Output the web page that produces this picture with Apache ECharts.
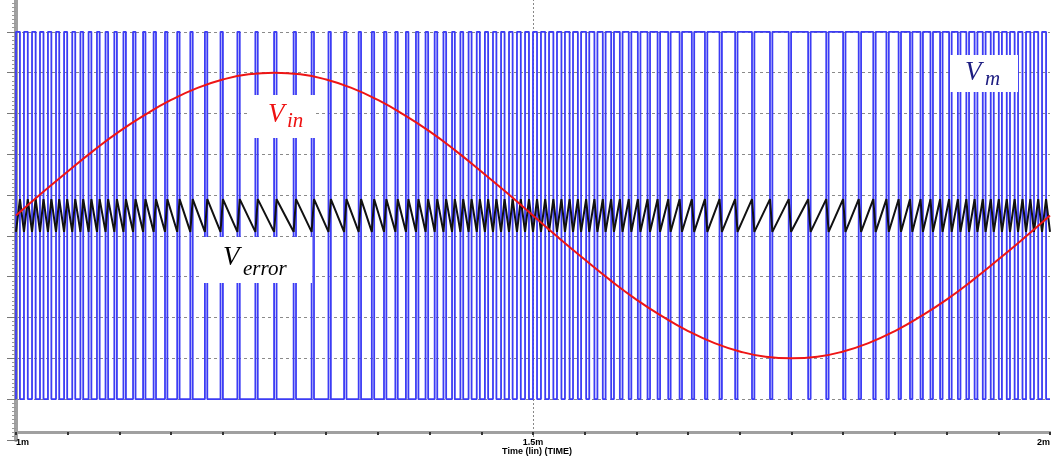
<!DOCTYPE html>
<html>
<head>
<meta charset="utf-8">
<script src="https://cdn.jsdelivr.net/npm/echarts@6/dist/echarts.min.js"></script>
<style>
  html, body { margin: 0; padding: 0; background: #fff; }
  #chart { width: 1051px; height: 457px; }
</style>
</head>
<body>
<div id="chart"></div>
<script>
// x axis in microseconds, labels in ms
const timeTicks = [1000, 1500, 2000]
const timeTickLabels = ['1m', '1.5m', '2m']
const timeAxisName = 'Time (lin) (TIME)'

// V_in (red sine)
const vinTime = [1000, 1025, 1050, 1075, 1100, 1125, 1150, 1175, 1200, 1225, 1250,
  1275, 1300, 1325, 1350, 1375, 1400, 1425, 1450, 1475, 1500,
  1525, 1550, 1575, 1600, 1625, 1650, 1675, 1700, 1725, 1750,
  1775, 1800, 1825, 1850, 1875, 1900, 1925, 1950, 1975, 2000]
const vinValue = [4.5, 5.05, 5.58, 6.09, 6.56, 6.97, 7.33, 7.62, 7.83, 7.96, 8.0,
  7.96, 7.83, 7.62, 7.33, 6.97, 6.56, 6.09, 5.58, 5.05, 4.5,
  3.95, 3.42, 2.91, 2.44, 2.03, 1.67, 1.38, 1.17, 1.04, 1.0,
  1.04, 1.17, 1.38, 1.67, 2.03, 2.44, 2.91, 3.42, 3.95, 4.5]

// V_m (blue PWM): rising edge of each pulse and how long it stays high
const pulseStart = [1000, 1007.7, 1015.5, 1023.2, 1030.9, 1038.7, 1046.5, 1054.4, 1062.3, 1070.2,
  1078.3, 1086.6, 1095.1, 1103.9, 1113.2, 1122.9, 1133.1, 1144.1, 1155.9, 1168.6,
  1182.7, 1197.8, 1214.1, 1231.5, 1249.6, 1268.5, 1285.9, 1302.2, 1317.3, 1331.4,
  1344.1, 1355.9, 1366.9, 1377.1, 1386.8, 1396.1, 1404.9, 1413.4, 1421.7, 1429.8,
  1437.7, 1445.6, 1453.5, 1461.3, 1469.1, 1476.8, 1484.5, 1492.3,
  1500, 1507.7, 1515.5, 1523.2, 1530.9, 1538.7, 1546.5, 1554.4, 1562.3, 1570.2,
  1578.3, 1586.6, 1595.1, 1603.9, 1613.2, 1622.9, 1633.1, 1644.1, 1655.9, 1668.6,
  1682.7, 1697.8, 1714.1, 1731.5, 1749.6, 1768.5, 1785.9, 1802.2, 1817.3, 1831.4,
  1844.1, 1855.9, 1866.9, 1877.1, 1886.8, 1896.1, 1904.9, 1913.4, 1921.7, 1929.8,
  1937.7, 1945.6, 1953.5, 1961.3, 1969.1, 1976.8, 1984.5, 1992.3]
const pulseWidth = [3.8, 3.7, 3.5, 3.4, 3.3, 3.1, 3.0, 2.9, 2.7, 2.7,
  2.6, 2.5, 2.5, 2.4, 2.4, 2.3, 2.3, 2.3, 2.3, 2.3,
  2.3, 2.3, 2.3, 2.3, 2.4, 2.3, 2.3, 2.3, 2.3, 2.3,
  2.3, 2.3, 2.3, 2.4, 2.4, 2.5, 2.5, 2.6, 2.7, 2.7,
  2.9, 3.0, 3.1, 3.3, 3.4, 3.5, 3.7, 3.8,
  3.9, 4.1, 4.2, 4.3, 4.5, 4.7, 4.9, 5.0, 5.2, 5.4,
  5.7, 6.0, 6.3, 6.9, 7.3, 7.9, 8.7, 9.5, 10.4, 11.8,
  12.8, 14.0, 15.1, 15.8, 16.5, 15.1, 14.0, 12.8, 11.8, 10.4,
  9.5, 8.7, 7.9, 7.3, 6.9, 6.3, 6.0, 5.7, 5.4, 5.2,
  5.0, 4.9, 4.7, 4.5, 4.3, 4.2, 4.1, 3.9]
const vmLevels = [0, 9]        // low, high
const errorLevels = [4.1, 4.9] // V_error trough / crest

const tEnd = 2000

// step trace for V_m
const vmData = []
pulseStart.forEach((s, i) => {
    vmData.push([s, vmLevels[0]], [s, vmLevels[1]], [s + pulseWidth[i], vmLevels[1]], [s + pulseWidth[i], vmLevels[0]])
})
vmData.push([tEnd, vmLevels[0]])

// sawtooth for V_error: climbs while V_m is high, falls while low
const errData = []
pulseStart.forEach((s, i) => {
    errData.push([s, errorLevels[0]], [s + pulseWidth[i], errorLevels[1]])
})
errData.push([tEnd, errorLevels[0]])

const vinData = vinTime.map((t, i) => [t, vinValue[i]])

const serif = '"Liberation Serif", "DejaVu Serif", serif'
const sans = '"Liberation Sans", Arial, sans-serif'

// white label boxes with italic serif names
function label(box, main, sub, color) {
    return [
        { type: 'rect', z: 100, shape: box, style: { fill: '#fff' } },
        { type: 'text', z: 101, style: { text: main.t, x: main.x, y: main.y, fill: color,
            font: 'italic 27px ' + serif, verticalAlign: 'bottom' } },
        { type: 'text', z: 101, style: { text: sub.t, x: sub.x, y: sub.y, fill: color,
            font: 'italic 21px ' + serif, verticalAlign: 'bottom' } },
    ]
}

const chart = echarts.init(document.getElementById('chart'))
chart.setOption({
    animation: false,
    backgroundColor: '#fff',
    grid: { left: 16, right: 1, top: -9, bottom: 17, outerBoundsMode: 'none' },
    xAxis: {
        type: 'value',
        min: 1000,
        max: 2000,
        interval: 500,
        offset: -8,
        axisLine: { onZero: false, lineStyle: { color: '#a0a0a0', width: 3 } },
        axisTick: { length: 3, lineStyle: { color: '#333', width: 2 } },
        minorTick: { show: true, splitNumber: 10, length: 3, lineStyle: { color: '#333', width: 2 } },
        splitLine: { show: true, showMaxLine: false, lineStyle: { color: '#888', type: [2, 2], width: 1 } },
        axisLabel: {
            margin: 6,
            fontSize: 9,
            fontWeight: 'bold',
            fontFamily: sans,
            color: '#000',
            alignMinLabel: 'left',
            alignMaxLabel: 'right',
            formatter: v => timeTickLabels[timeTicks.indexOf(v)] || '',
        },
    },
    yAxis: {
        type: 'value',
        min: -1,
        max: 10,
        interval: 1,
        axisLine: { show: true, onZero: false, lineStyle: { color: '#a0a0a0', width: 4 } },
        axisTick: { show: true, length: 9, lineStyle: { color: '#777' } },
        minorTick: { show: true, splitNumber: 10, length: 4, lineStyle: { color: '#999' } },
        axisLabel: { show: false },
        splitLine: { show: true, showMinLine: false, lineStyle: { color: '#8a8a8a', type: [3, 3], width: 1 } },
    },
    series: [
        {
            name: 'Vm',
            type: 'line',
            data: vmData,
            symbol: 'none',
            lineStyle: { color: '#3c3cf4', width: 1.8 },
            z: 2,
        },
        {
            name: 'Verror',
            type: 'line',
            data: errData,
            symbol: 'none',
            lineStyle: { color: '#111', width: 2 },
            z: 3,
        },
        {
            name: 'Vin',
            type: 'line',
            data: vinData,
            smooth: true,
            symbol: 'none',
            lineStyle: { color: '#ee1515', width: 2 },
            z: 4,
        },
    ],
    graphic: [
        ...label({ x: 248, y: 95, width: 68, height: 43 }, { t: 'V', x: 268, y: 128 }, { t: 'in', x: 287, y: 132 }, '#ee1111'),
        ...label({ x: 200, y: 237, width: 112, height: 46 }, { t: 'V', x: 223, y: 271 }, { t: 'error', x: 243, y: 280 }, '#000'),
        ...label({ x: 950, y: 55, width: 68, height: 37 }, { t: 'V', x: 965, y: 86 }, { t: 'm', x: 985, y: 90 }, '#1c1c80'),
        // axis title under the 1.5m label
        { type: 'text', z: 101, style: { text: timeAxisName, x: 537, y: 452, fill: '#000',
            font: 'bold 9px ' + sans, align: 'center', verticalAlign: 'middle' } },
    ],
})
</script>
</body>
</html>
